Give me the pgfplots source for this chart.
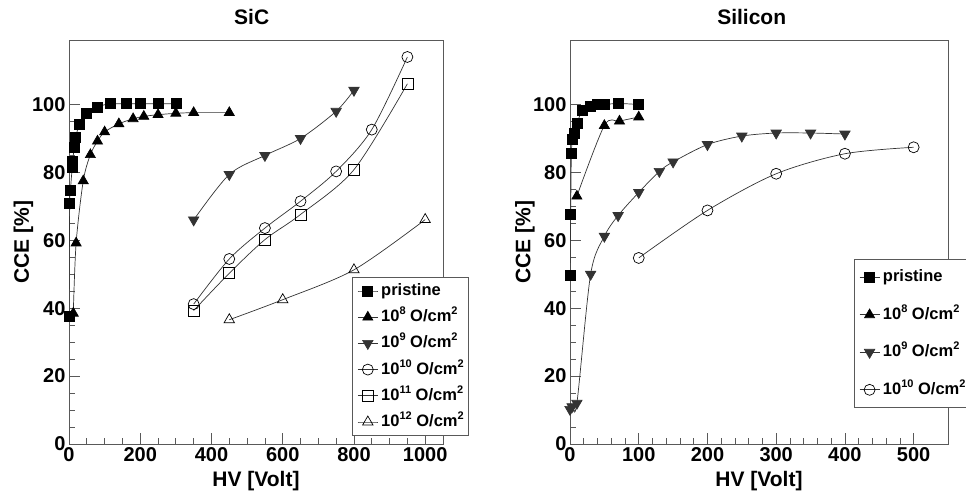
\documentclass[border=0pt]{standalone}
\usepackage{fontspec}
\setmainfont{Liberation Sans}
\usepackage{pgfplots}
\pgfplotsset{compat=1.18}
\newcommand{\sups}[1]{\raisebox{0.42em}{\fontsize{11}{11}\selectfont #1}}
\begin{document}
\begin{tikzpicture}[x=1pt,y=1pt]
\useasboundingbox (0,0) rectangle (966,492);
\pgfplotsset{
  ceaxis/.style={
    scale only axis, height=404pt,
    ymin=0, ymax=119, ytick={0,20,...,100}, minor y tick num=3,
    tick align=inside, xtick pos=lower, ytick pos=left,
    major tick length=11pt, minor tick length=5.5pt,
    axis line style={black!65, line width=0.8pt},
    every tick/.style={black!65, line width=0.8pt},
    tick label style={font=\bfseries\fontsize{20}{20}\selectfont},
    /pgf/number format/assume math mode=true,
    /pgf/number format/set thousands separator={},
    label style={font=\bfseries\fontsize{21}{21}\selectfont},
    title style={font=\bfseries\fontsize{21}{21}\selectfont},
    ylabel={CCE [\%]}, xlabel={HV [Volt]},
    legend cell align=left,
    legend style={draw=black!65, line width=0.7pt, fill=white,
      font=\bfseries\fontsize{16.5}{16.5}\selectfont, inner xsep=5pt,
      anchor=north west,
      nodes={inner sep=0pt, text height=13pt, text depth=4pt},
      /tikz/every odd column/.append style={column sep=3pt}},
    legend image code/.code={\draw[mark repeat=2,mark phase=2] plot coordinates {(0pt,0pt)(10pt,0pt)(20pt,0pt)};},
    every axis plot/.append style={smooth, black!80, line width=0.7pt, mark options={solid, black, line width=0.7pt}},
  },
  pris/.style={mark=square*, mark size=5pt},
  e8/.style={mark=triangle*, mark size=5.8pt},
  e9/.style={mark=triangle*, mark size=6pt, mark options={rotate=180}},
  e10/.style={mark=o, mark size=5.5pt},
  e11/.style={mark=square, mark size=5.5pt},
  e12/.style={mark=triangle, mark size=6pt},
}
\begin{axis}[ceaxis, at={(69pt,48pt)}, anchor=south west, width=374pt,
  xmin=0, xmax=1050, xtick={0,200,...,1000}, minor x tick num=3,
  title={SiC},
  title style={at={(axis description cs:0.4885,1.042)}, anchor=center},
  xlabel style={at={(axis description cs:0.5,-0.0916)}, anchor=center},
  ylabel style={at={(axis description cs:-0.1217,0.5)}, anchor=center},
  legend style={at={(0.757,0.413)}, inner ysep=5pt, row sep=9.2pt},
]
\addplot[pris] coordinates {(0,37.7)(2,71)(4,74.7)(9,81.6)(10,83.3)(15,87.5)(19,90.4)(29,94.1)(50,97.5)(80,99.3)(115,100.2)(160,100.2)(200,100.2)(250,100.2)(300,100.2)};
\addlegendentry{pristine}
\addplot[e8] coordinates {(12,38.5)(20,59.2)(40,77.5)(60,85.2)(80,89.2)(100,91.9)(140,94.3)(180,95.8)(210,96.5)(250,97)(300,97.4)(350,97.6)(450,97.6)};
\addlegendentry{10\sups{8} O/cm\sups{2}}
\addplot[e9] coordinates {(350,66)(450,79.4)(550,85)(650,90)(750,98)(800,104.2)};
\addlegendentry{10\sups{9} O/cm\sups{2}}
\addplot[e10] coordinates {(350,41.2)(450,54.5)(550,63.6)(650,71.5)(750,80.3)(850,92.6)(950,114)};
\addlegendentry{10\sups{10} O/cm\sups{2}}
\addplot[e11] coordinates {(350,39.3)(450,50.3)(550,60.2)(650,67.6)(800,80.8)(950,106.1)};
\addlegendentry{10\sups{11} O/cm\sups{2}}
\addplot[e12] coordinates {(450,36.6)(600,42.5)(800,51.3)(1000,66.1)};
\addlegendentry{10\sups{12} O/cm\sups{2}}
\end{axis}
\begin{axis}[ceaxis, at={(570pt,48pt)}, anchor=south west, width=378pt,
  xmin=0, xmax=550, xtick={0,100,...,500}, minor x tick num=4,
  title={Silicon},
  title style={at={(axis description cs:0.4807,1.042)}, anchor=center},
  xlabel style={at={(axis description cs:0.5,-0.0916)}, anchor=center},
  ylabel style={at={(axis description cs:-0.119,0.5)}, anchor=center},
  legend style={at={(0.751,0.458)}, inner ysep=9.5pt, row sep=20.5pt},
]
\addplot[pris] coordinates {(0,49.6)(1,67.6)(2,85.7)(4,89.7)(7,91.6)(10,94.4)(18,98.2)(29,99.5)(40,100)(50,100)(70,100.3)(100,100)};
\addlegendentry{pristine}
\addplot[e8] coordinates {(10,73)(50,93.8)(72,95.1)(100,96.3)};
\addlegendentry{10\sups{8} O/cm\sups{2}}
\addplot[e9] coordinates {(0,10.2)(3,11)(10,12)(30,50)(50,61.2)(70,67.3)(100,74.1)(130,80.3)(150,83.1)(200,88.2)(250,90.7)(300,91.6)(350,91.6)(400,91.3)};
\addlegendentry{10\sups{9} O/cm\sups{2}}
\addplot[e10] coordinates {(100,54.8)(200,68.8)(300,79.6)(400,85.5)(500,87.4)};
\addlegendentry{10\sups{10} O/cm\sups{2}}
\end{axis}
\end{tikzpicture}
\end{document}
